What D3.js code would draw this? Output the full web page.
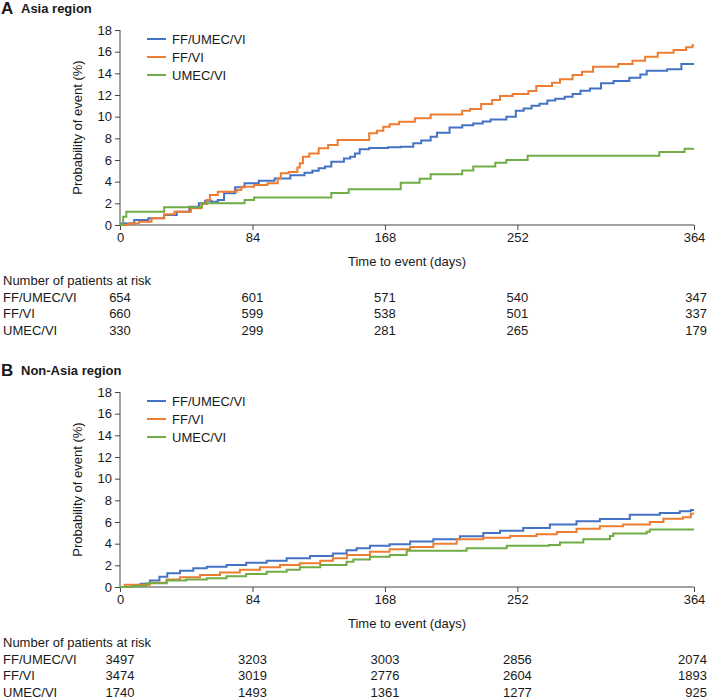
<!DOCTYPE html>
<html><head><meta charset="utf-8">
<script src="https://cdn.jsdelivr.net/npm/d3@7"></script>
<style>body{margin:0;background:#fff;} text{font-family:Arial,"Liberation Sans",sans-serif;}</style>
</head><body>
<svg id="c" width="710" height="700"></svg>
<script>
const seriesNames = ["FF/UMEC/VI", "FF/VI", "UMEC/VI"];
const colors = ["#4472C4", "#ED7D31", "#70AD47"];
const xTicks = [0, 84, 168, 252, 364];
const yTicks = [0, 2, 4, 6, 8, 10, 12, 14, 16, 18];

// Panel A – Asia region: [day, probability %] step points
const asiaFFUMECVI = [[0,0],[1,0.15],[9,0.46],[18,0.62],[28,0.92],[36,1.23],[44,1.69],[50,2.0],[54,2.25],[58,2.15],[62,2.3],[66,2.92],[73,3.48],[79,3.85],[88,4.09],[98,4.3],[108,4.6],[117,4.83],[122,5.0],[126,5.23],[130,5.4],[134,5.85],[142,6.15],[146,6.3],[149,6.6],[152,7.0],[158,7.1],[170,7.17],[178,7.23],[186,7.54],[191,7.8],[197,8.15],[201,8.52],[209,9.0],[217,9.2],[224,9.38],[230,9.55],[235,9.75],[245,10.0],[251,10.55],[256,10.75],[261,11.0],[266,11.2],[271,11.5],[276,11.65],[282,11.85],[287,12.1],[292,12.4],[298,12.6],[305,13.08],[313,13.3],[323,13.6],[330,13.9],[334,14.25],[347,14.37],[356,14.86]];
const asiaFFVI = [[0,0],[5,0.15],[12,0.3],[20,0.62],[28,1.0],[34.5,1.23],[45,1.54],[51.6,1.94],[55,2.3],[57,2.77],[62,3.08],[74,3.23],[77,3.54],[85,3.69],[93.5,3.85],[100,4.3],[102,4.77],[107,4.9],[112.5,5.3],[114,5.7],[116,6.3],[120,6.6],[126,7.08],[132,7.38],[138,7.85],[158,8.46],[163,8.7],[167,9.08],[171,9.3],[177,9.54],[187,9.85],[197,10.2],[217,10.55],[222,10.7],[229,11.17],[236,11.54],[241,11.9],[249,12.1],[259,12.37],[264,12.83],[274,13.14],[279,13.45],[287,13.85],[293,14.15],[300,14.6],[316,14.86],[325,15.17],[333,15.54],[341,15.9],[351,16.15],[359,16.4],[363,16.6]];
const asiaUMECVI = [[0,0],[2,0.77],[4,1.23],[28,1.63],[52,2.0],[79,2.31],[85,2.55],[134,2.95],[145,3.3],[178,3.9],[190,4.27],[197,4.68],[217,5.02],[224,5.39],[238,5.75],[245,6.0],[258.5,6.4],[342,6.74],[358,7.05]];

// Panel B – Non-Asia region
const nonAsiaFFUMECVI = [[0,0],[8,0.09],[13,0.3],[19,0.6],[25,0.95],[30,1.26],[38,1.51],[46.5,1.72],[55,1.88],[67.6,2.03],[80,2.25],[93,2.43],[105.7,2.65],[120.5,2.86],[135,3.1],[143.7,3.4],[150,3.57],[158.5,3.8],[171,3.95],[184,4.2],[198.7,4.4],[215.6,4.68],[230.4,4.98],[241,5.2],[255.7,5.45],[272.6,5.76],[289.5,6.06],[304.3,6.28],[323.3,6.68],[342.3,6.83],[355,6.99],[362,7.1]];
const nonAsiaFFVI = [[0,0],[3,0.2],[19,0.4],[29.6,0.7],[38,0.9],[50.7,1.1],[63.4,1.35],[76,1.6],[88.8,1.82],[101.5,2.03],[114,2.2],[127,2.43],[135,2.65],[144,2.95],[158.5,3.26],[171,3.48],[184,3.7],[198.7,4.0],[213.5,4.4],[230.4,4.55],[247.3,4.7],[264.2,4.86],[277,5.08],[289.5,5.38],[304.3,5.6],[319,5.78],[336,6.0],[344.6,6.3],[357,6.45],[362,6.77]];
const nonAsiaUMECVI = [[0,0],[8,0.09],[17,0.34],[29.6,0.6],[42,0.7],[55,0.8],[67.6,1.0],[80,1.2],[93,1.4],[105.7,1.6],[114,1.82],[127,2.03],[143.7,2.34],[148,2.55],[158.5,2.8],[171,2.95],[181.8,3.35],[219.8,3.57],[245.2,3.8],[272,3.88],[279,4.1],[293.8,4.4],[310.7,4.7],[312.8,4.95],[334,5.1],[336,5.3]];

const riskA = [[654,601,571,540,347],[660,599,538,501,337],[330,299,281,265,179]];
const riskB = [[3497,3203,3003,2856,2074],[3474,3019,2776,2604,1893],[1740,1493,1361,1277,925]];

const panels = [
  {letter:"A", title:"Asia region", top:30, series:[asiaFFUMECVI, asiaFFVI, asiaUMECVI], risk:riskA},
  {letter:"B", title:"Non-Asia region", top:392, series:[nonAsiaFFUMECVI, nonAsiaFFVI, nonAsiaUMECVI], risk:riskB}
];

const svg = d3.select("#c");
const left = 120, right = 694, plotH = 195;
const x = d3.scaleLinear().domain([0,364]).range([left,right]);
const txt = "#1a1a1a";

panels.forEach(p => {
  const bottom = p.top + plotH;
  const y = d3.scaleLinear().domain([0,18]).range([bottom, p.top]);
  const g = svg.append("g");

  // Title
  g.append("text").attr("x",1).attr("y",p.top-16)
    .attr("font-size",17).attr("font-weight","bold").attr("fill",txt).text(p.letter);
  g.append("text").attr("x",21).attr("y",p.top-17)
    .attr("font-size",13).attr("font-weight","bold").attr("fill",txt).text(p.title);

  // Axes
  const ya = g.append("g").attr("transform",`translate(${left},0)`)
    .call(d3.axisLeft(y).tickValues(yTicks).tickSize(5).tickPadding(3));
  const xa = g.append("g").attr("transform",`translate(0,${bottom})`)
    .call(d3.axisBottom(x).tickValues(xTicks).tickSize(5).tickPadding(3));
  [ya, xa].forEach(a => {
    a.select(".domain").attr("stroke","#444");
    a.selectAll(".tick line").attr("stroke","#444");
    a.selectAll(".tick text").attr("font-size",13).attr("fill",txt)
      .attr("font-family","Arial, 'Liberation Sans', sans-serif");
  });
  ya.select(".domain").attr("d",`M-0,${bottom}V${p.top}`);
  xa.select(".domain").attr("d",`M${left},0H${right}`);

  g.append("text").attr("transform",`translate(77,${(p.top+bottom)/2}) rotate(-90)`)
    .attr("text-anchor","middle").attr("dy","0.35em").attr("font-size",13).attr("fill",txt)
    .text("Probability of event (%)");
  g.append("text").attr("x",(left+right)/2).attr("y",bottom+36).attr("dy","0.35em")
    .attr("text-anchor","middle").attr("font-size",13).attr("fill",txt).text("Time to event (days)");

  // Curves
  const line = d3.line().x(d=>x(d[0])).y(d=>y(d[1])).curve(d3.curveStepAfter);
  p.series.forEach((s,i) => {
    const pts = s.concat([[364, s[s.length-1][1]]]);
    g.append("path").datum(pts).attr("d",line).attr("fill","none")
      .attr("stroke",colors[i]).attr("stroke-width",2);
  });

  // Legend
  seriesNames.forEach((n,i) => {
    const ly = p.top + 9 + i*18;
    g.append("line").attr("x1",147).attr("x2",166).attr("y1",ly).attr("y2",ly)
      .attr("stroke",colors[i]).attr("stroke-width",2);
    g.append("text").attr("x",172).attr("y",ly).attr("dy","0.35em").attr("font-size",13)
      .attr("fill",txt).text(n);
  });

  // Number at risk
  g.append("text").attr("x",3).attr("y",bottom+55).attr("dy","0.35em")
    .attr("font-size",13).attr("fill",txt).text("Number of patients at risk");
  seriesNames.forEach((n,i) => {
    const ry = bottom + 72 + i*16.5;
    g.append("text").attr("x",3).attr("y",ry).attr("dy","0.35em")
      .attr("font-size",13).attr("fill",txt).text(n);
    p.risk[i].forEach((v,j) => {
      const last = j === xTicks.length-1;
      g.append("text").attr("x", last ? 707 : x(xTicks[j])).attr("y",ry).attr("dy","0.35em")
        .attr("text-anchor", last ? "end" : "middle").attr("font-size",13).attr("fill",txt).text(v);
    });
  });
});
</script>
</body></html>
